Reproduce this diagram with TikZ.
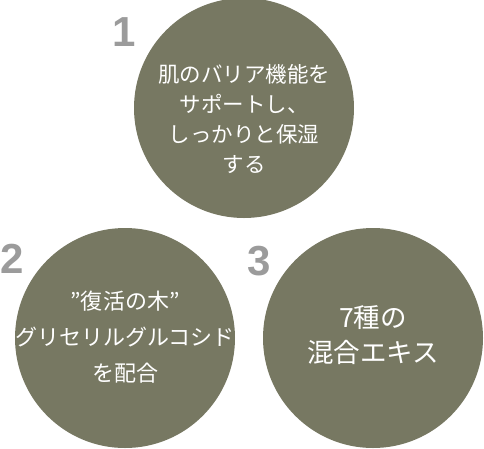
\documentclass[tikz,border=0pt]{standalone}
\usepackage{fontspec}
\setmainfont{Liberation Sans}
\newfontfamily\jpfont{Noto Sans CJK JP}
\usepackage{xcolor}
\usepackage{tikz}
\usetikzlibrary{positioning, calc}
\definecolor{bsolive}{RGB}{119,120,98}
\definecolor{bsgray}{RGB}{155,155,155}

\begin{document}
\begin{tikzpicture}[
  x=1pt, y=-1pt,
  disc/.style={circle, fill=bsolive, draw=none, minimum size=220pt, inner sep=0pt},
  txt/.style={text=white, align=center, inner sep=0pt},
  num/.style={text=bsgray, font=\fontsize{42}{42}\selectfont\bfseries, inner sep=0pt}
]
\useasboundingbox (0,0) rectangle (484,448);

%% ── CIRCLES ─────────────────────────────────────────────────────
\node[disc] (c1) at (244,108) {};
\node[disc] (c2) at (125,338) {};
\node[disc] (c3) at (373,338) {};

%% ── NUMBERS ─────────────────────────────────────────────────────
\node[num] (n1) at (124,32) {1};
\node[num] (n2) at (12,259) {2};
\node[num] (n3) at (259,261) {3};

%% ── TEXTS ───────────────────────────────────────────────────────
\node[txt, font=\jpfont\fontsize{21.5}{30}\selectfont]
  (t1) at ([yshift=-11pt]c1.center)
  {肌のバリア機能を\\サポートし、\\しっかりと保湿\\する};
\node[txt, font=\jpfont\fontsize{22}{36}\selectfont]
  (t2) at ([yshift=1pt]c2.center)
  {”復活の木”\\グリセリルグルコシド\\を配合};
\node[txt, font=\jpfont\fontsize{26.5}{35}\selectfont]
  (t3) at ([yshift=3pt]c3.center)
  {7種の\\混合エキス};

\end{tikzpicture}
\end{document}
